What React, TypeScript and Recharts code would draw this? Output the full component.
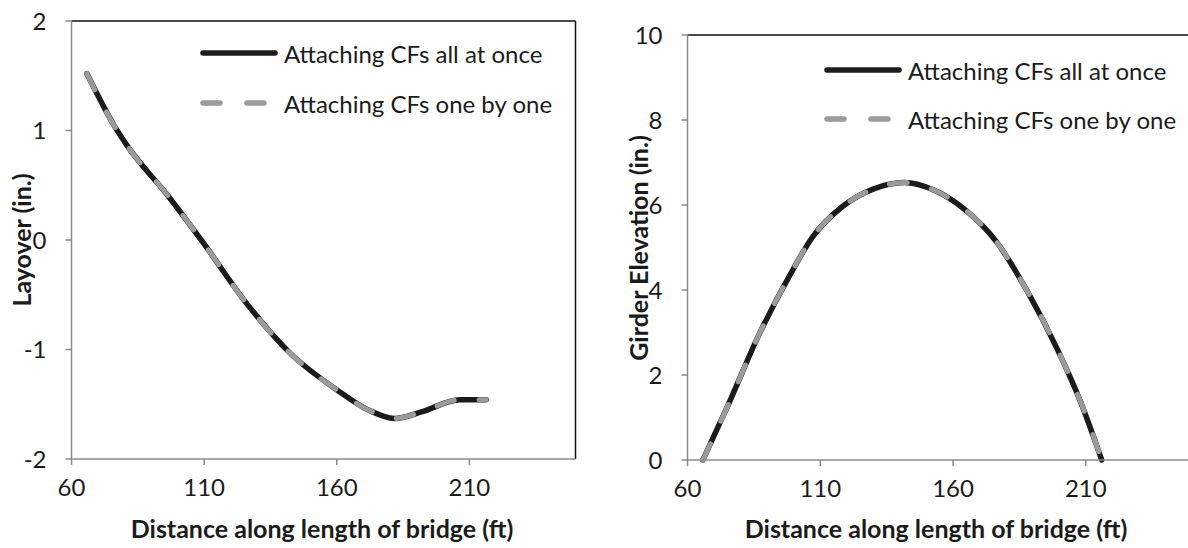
import { Label, Legend, Line, LineChart, ReferenceLine, XAxis, YAxis } from "recharts";

const FONT = "Lato, 'Open Sans', sans-serif";
const INK = "#1b1b1b";
const AXIS_GRAY = "#8a8a8a";
const DASH_GRAY = "#9b9b9b";

const SERIES_NAMES = ["Attaching CFs all at once", "Attaching CFs one by one"];
const X_TICKS = [60, 110, 160, 210];
const LAYOVER_TICKS = [-2, -1, 0, 1, 2];
const ELEVATION_TICKS = [0, 2, 4, 6, 8, 10];

// left panel: layover along the girder
const LAYOVER_DIST = [65.8, 76.2, 81.3, 96.5, 109.5, 125.4, 142.7, 160.1, 171.7, 181.8, 191.9, 206.4, 216.3];
const LAYOVER_ALL_AT_ONCE = [1.52, 1.04, 0.85, 0.4, -0.02, -0.56, -1.04, -1.37, -1.55, -1.63, -1.57, -1.46, -1.46];
const LAYOVER_ONE_BY_ONE = [1.52, 1.04, 0.85, 0.4, -0.02, -0.56, -1.04, -1.37, -1.55, -1.63, -1.57, -1.46, -1.46];

// right panel: girder elevation
const ELEV_DIST = [65.8, 75.2, 86.7, 98.3, 106.9, 118.5, 130.1, 141.6, 153.2, 164.7, 176.3, 187.8, 199.4, 208.1, 216];
const ELEV_ALL_AT_ONCE = [0, 1.28, 2.92, 4.32, 5.23, 5.97, 6.38, 6.53, 6.34, 5.88, 5.14, 3.99, 2.59, 1.36, 0];
const ELEV_ONE_BY_ONE = [0, 1.28, 2.92, 4.32, 5.23, 5.97, 6.38, 6.53, 6.34, 5.88, 5.14, 3.99, 2.59, 1.36, 0];

function rows(dist: number[], a: number[], b: number[]) {
  return dist.map((d, i) => ({ dist: d, all: a[i], one: b[i] }));
}

function LegendBox({ payload, rowHeight }: { payload?: any[]; rowHeight: number }) {
  return (
    <div style={{ fontFamily: FONT, fontSize: 24, color: INK }}>
      {(payload ?? []).map((p, i) => (
        <div key={p.value} style={{ display: "flex", alignItems: "center", height: rowHeight }}>
          <svg width={85} height={20}>
            <line
              x1={4}
              x2={76}
              y1={10}
              y2={10}
              stroke={p.color}
              strokeWidth={5.5}
              strokeLinecap="round"
              strokeDasharray={i === 1 ? "17 27" : undefined}
            />
          </svg>
          <span style={{ whiteSpace: "nowrap" }}>{p.value}</span>
        </div>
      ))}
    </div>
  );
}

function axisTitle(x: number, y: number, text: string, vertical = false) {
  return () => (
    <text
      x={x}
      y={y}
      textAnchor="middle"
      dominantBaseline="central"
      transform={vertical ? `rotate(-90 ${x} ${y})` : undefined}
      style={{ fontFamily: FONT, fontSize: 25, fontWeight: 700, fill: INK }}
    >
      {text}
    </text>
  );
}

type PanelProps = {
  data: { dist: number; all: number; one: number }[];
  width: number;
  margin: { top: number; right: number; bottom: number; left: number };
  yDomain: [number, number];
  yTicks: number[];
  yTitle: string;
  yTitlePos: [number, number];
  xTitlePos: [number, number];
  legendPos: { top: number; left: number };
  legendRow: number;
};

function Panel(props: PanelProps) {
  const tickStyle = { fontFamily: FONT, fontSize: 24, fill: INK };
  return (
    <LineChart width={props.width} height={548} data={props.data} margin={props.margin}>
      <XAxis
        type="number"
        dataKey="dist"
        domain={[60, 250]}
        ticks={X_TICKS}
        interval={0}
        height={60}
        stroke={AXIS_GRAY}
        strokeWidth={1.5}
        tickSize={6}
        tickMargin={14}
        tick={tickStyle}
      >
        <Label content={axisTitle(props.xTitlePos[0], props.xTitlePos[1], "Distance along length of bridge (ft)")} />
      </XAxis>
      <YAxis
        type="number"
        domain={props.yDomain}
        ticks={props.yTicks}
        interval={0}
        width={50}
        stroke={AXIS_GRAY}
        strokeWidth={1.5}
        tickSize={6}
        tickMargin={19}
        tick={tickStyle}
      >
        <Label content={axisTitle(props.yTitlePos[0], props.yTitlePos[1], props.yTitle, true)} />
      </YAxis>
      <ReferenceLine y={props.yDomain[1]} stroke="#111" strokeWidth={1.5} />
      <ReferenceLine x={250} stroke="#111" strokeWidth={1.5} />
      <Legend
        layout="horizontal"
        align="center"
        verticalAlign="middle"
        wrapperStyle={{ top: props.legendPos.top, left: props.legendPos.left, width: "auto" }}
        content={(p: any) => <LegendBox payload={p.payload} rowHeight={props.legendRow} />}
      />
      <Line
        name={SERIES_NAMES[0]}
        dataKey="all"
        type="monotone"
        stroke={INK}
        strokeWidth={5.5}
        strokeLinecap="round"
        dot={false}
        isAnimationActive={false}
      />
      <Line
        name={SERIES_NAMES[1]}
        dataKey="one"
        type="monotone"
        stroke={DASH_GRAY}
        strokeWidth={5}
        strokeLinecap="round"
        strokeDasharray="18 25"
        dot={false}
        isAnimationActive={false}
      />
    </LineChart>
  );
}

export default function App() {
  return (
    <div
      style={{
        position: "absolute",
        left: 0,
        top: 0,
        width: 1188,
        height: 548,
        overflow: "hidden",
        background: "#fff",
      }}
    >
      <div style={{ position: "absolute", left: 0, top: 0 }}>
        <Panel
          data={rows(LAYOVER_DIST, LAYOVER_ALL_AT_ONCE, LAYOVER_ONE_BY_ONE)}
          width={600}
          margin={{ top: 21, right: 24.5, bottom: 29, left: 21.5 }}
          yDomain={[-2, 2]}
          yTicks={LAYOVER_TICKS}
          yTitle="Layover (in.)"
          yTitlePos={[21, 240]}
          xTitlePos={[322, 528]}
          legendPos={{ top: 28, left: 199 }}
          legendRow={50}
        />
      </div>
      <div style={{ position: "absolute", left: 588, top: 0 }}>
        <Panel
          data={rows(ELEV_DIST, ELEV_ALL_AT_ONCE, ELEV_ONE_BY_ONE)}
          width={612}
          margin={{ top: 35, right: 8, bottom: 28, left: 49.5 }}
          yDomain={[0, 10]}
          yTicks={ELEVATION_TICKS}
          yTitle="Girder Elevation (in.)"
          yTitlePos={[49.5, 248]}
          xTitlePos={[348, 528]}
          legendPos={{ top: 45.5, left: 235 }}
          legendRow={49}
        />
      </div>
    </div>
  );
}
